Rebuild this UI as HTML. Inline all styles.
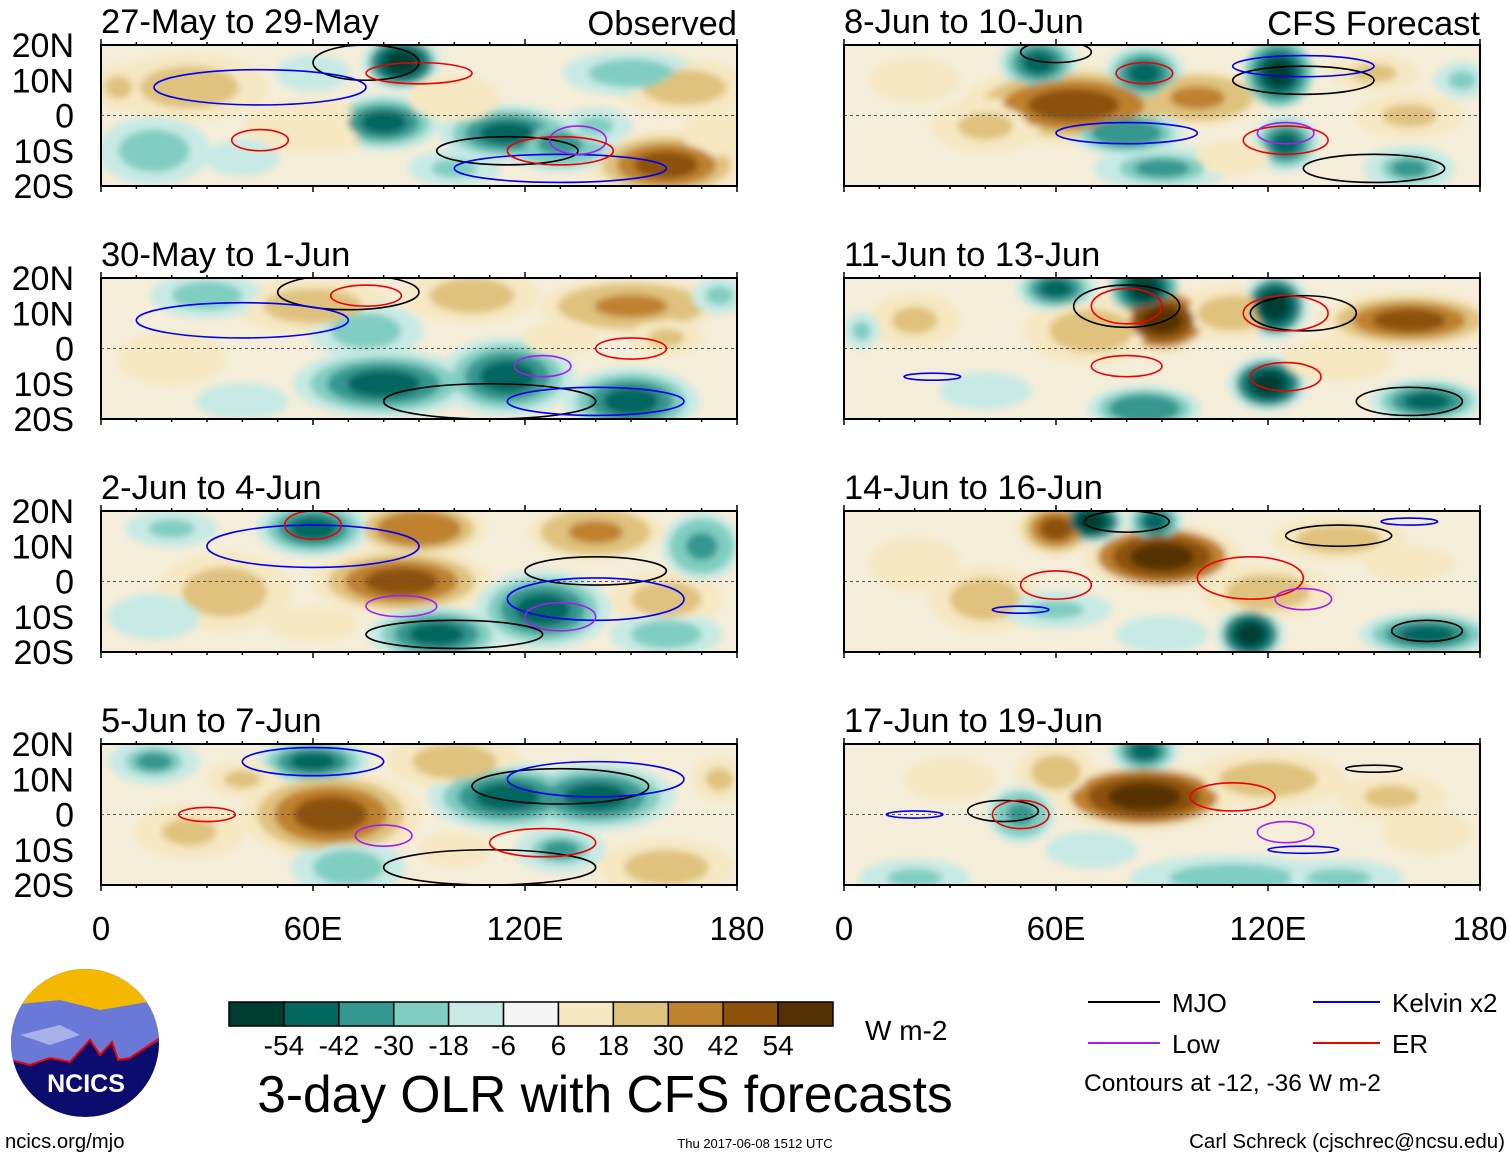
<!DOCTYPE html>
<html><head><meta charset="utf-8"><style>
html,body{margin:0;padding:0;background:#fff}
body{width:1510px;height:1158px;overflow:hidden;font-family:"Liberation Sans",sans-serif}
</style></head><body>
<svg id="chart" width="1510" height="1158" viewBox="0 0 1510 1158" xmlns="http://www.w3.org/2000/svg" font-family="Liberation Sans, sans-serif">
<defs>
<filter id="blur" x="-50%" y="-50%" width="200%" height="200%"><feGaussianBlur stdDeviation="3.5"/></filter>
</defs>
<g id="panels"></g>
<g id="colorbar"></g>
<text x="865" y="1040" font-size="28">W m-2</text>
<text x="605" y="1112" font-size="51.5" text-anchor="middle">3-day OLR with CFS forecasts</text>
<g font-size="26">
<line x1="1088" y1="1002" x2="1160" y2="1002" stroke="#000" stroke-width="2"/><text x="1172" y="1012">MJO</text>
<line x1="1313" y1="1002" x2="1380" y2="1002" stroke="#0000ee" stroke-width="2"/><text x="1392" y="1012">Kelvin x2</text>
<line x1="1088" y1="1043" x2="1160" y2="1043" stroke="#a020f0" stroke-width="2"/><text x="1172" y="1053">Low</text>
<line x1="1313" y1="1043" x2="1380" y2="1043" stroke="#ee0000" stroke-width="2"/><text x="1392" y="1053">ER</text>
<text x="1084" y="1091" font-size="24.5">Contours at -12, -36 W m-2</text>
</g>
<g>
<clipPath id="lc"><circle cx="85" cy="1043" r="74"/></clipPath>
<g clip-path="url(#lc)">
<rect x="10" y="969" width="150" height="150" fill="#0c0c6e"/>
<rect x="10" y="969" width="150" height="45" fill="#f5b800"/>
<path d="M10 1005 L60 1000 L100 1010 L160 1000 L160 1040 L130 1058 L118 1060 L112 1042 L100 1055 L90 1040 L70 1062 L50 1058 L30 1065 L10 1060 Z" fill="#6a78d8"/>
<path d="M20 1035 L60 1025 L80 1035 L50 1045 Z" fill="#a8b0e8"/>
<path d="M10 1060 L30 1065 L50 1058 L70 1062 L90 1040 L100 1055 L112 1042 L118 1060 L130 1058 L160 1038" fill="none" stroke="#e00" stroke-width="2"/>
</g>
<text x="86" y="1092" font-size="25" font-weight="bold" fill="#fff" text-anchor="middle">NCICS</text>
</g>
<text x="5" y="1148" font-size="20.3">ncics.org/mjo</text>
<text x="755" y="1148" font-size="13" text-anchor="middle">Thu 2017-06-08 1512 UTC</text>
<text x="1505" y="1148" font-size="20.5" text-anchor="end">Carl Schreck (cjschrec@ncsu.edu)</text>
</svg>
<script>
const binEdges = [-54,-42,-30,-18,-6,6,18,30,42,54];
const binColors = ["#003c30","#01665e","#35978f","#80cdc1","#c7eae5","#f5f5f5","#f6e8c3","#dfc27d","#bf812d","#8c510a","#543005"];
const latTicks = ["20N","10N","0","10S","20S"];
const lonTicks = ["0","60E","120E","180"];
const panelTitles = ["27-May to 29-May","30-May to 1-Jun","2-Jun to 4-Jun","5-Jun to 7-Jun","8-Jun to 10-Jun","11-Jun to 13-Jun","14-Jun to 16-Jun","17-Jun to 19-Jun"];
// blobs: [lon, lat, OLR anomaly, lon-radius deg, lat-radius deg]
const blobs0 = [[25,8,25,14,6],[60,-3,18,15,6],[160,-14,50,14,6],[165,8,30,12,5],[85,15,-55,7,5],[80,-2,-45,10,5],[115,-5,-45,12,5],[130,-8,-35,10,5],[15,-10,-25,10,6],[150,12,-25,12,4],[100,5,18,10,5],[5,8,20,6,5],[140,-3,-20,8,4],[40,-12,-15,8,4],[60,12,-15,8,4],[175,-5,15,8,5],[100,-15,-20,10,4]];
const blobs1 = [[20,-3,18,12,6],[60,12,25,14,5],[150,12,35,16,5],[80,-10,-50,16,6],[115,-8,-45,12,7],[150,-15,-45,12,6],[75,5,-25,10,5],[105,15,25,12,5],[30,15,-25,10,4],[175,15,-20,6,4],[40,-15,-15,10,4],[160,3,20,8,4],[130,3,15,8,4]];
const blobs2 = [[35,-3,25,12,7],[85,0,45,16,6],[90,15,40,12,5],[140,14,35,12,5],[160,-5,30,10,5],[60,15,-50,10,5],[95,-15,-50,12,5],[125,-8,-45,12,7],[170,10,-35,7,6],[20,15,-20,10,4],[15,-10,-15,10,5],[160,-15,-25,10,4],[60,-12,15,10,4]];
const blobs3 = [[65,0,50,16,8],[25,-5,20,12,6],[160,-15,30,12,5],[100,15,25,12,5],[60,15,-50,10,4],[115,5,-45,14,6],[140,5,-45,14,6],[70,-15,-25,10,5],[15,15,-30,8,4],[175,10,20,6,5],[40,10,20,8,4],[100,-10,15,8,4],[130,-10,-30,8,4]];
const blobs4 = [[65,3,50,20,7],[100,5,35,12,5],[40,-3,20,12,6],[160,0,20,12,5],[55,15,-45,7,5],[85,12,-50,7,5],[123,12,-60,6,6],[80,-5,-40,10,4],[125,-8,-50,6,5],[90,-15,-30,12,4],[160,-15,-30,8,4],[175,10,-20,6,4],[20,10,15,10,5],[150,12,20,10,4],[110,-12,15,8,4]];
const blobs5 = [[90,8,60,9,6],[70,5,30,12,6],[160,8,45,16,5],[110,10,25,10,5],[60,17,-45,7,4],[85,17,-60,6,5],[122,12,-55,6,6],[120,-10,-55,7,5],[165,-15,-45,10,4],[85,-17,-40,10,4],[20,8,20,10,6],[140,-3,15,12,5],[40,-12,-15,10,4],[5,5,-20,4,4]];
const blobs6 = [[90,7,55,14,6],[60,15,45,7,5],[40,-5,25,10,6],[140,12,25,12,4],[120,-3,25,12,5],[70,17,-55,6,4],[88,17,-45,5,4],[115,-15,-55,6,5],[165,-15,-50,12,4],[60,-8,-20,12,4],[20,5,15,10,6],[160,5,15,10,4],[90,-15,-15,10,4]];
const blobs7 = [[85,5,55,16,6],[60,12,30,7,5],[120,10,30,14,5],[155,5,20,12,5],[85,18,-50,6,4],[50,0,-35,6,5],[110,-18,-25,18,4],[20,-18,-20,12,4],[140,-18,-20,14,4],[30,10,15,10,5],[165,-5,15,10,5],[70,-10,-15,10,4]];
const allBlobs = [blobs0,blobs1,blobs2,blobs3,blobs4,blobs5,blobs6,blobs7];
// contours: [lon, lat, lon-radius, lat-radius, type]
const conts0 = [[75,15,15,5,"mjo"],[115,-10,20,4,"mjo"],[45,8,30,5,"kel"],[130,-15,30,4,"kel"],[90,12,15,3,"er"],[45,-7,8,3,"er"],[135,-7,8,4,"low"],[130,-10,15,4,"er"]];
const conts1 = [[70,16,20,5,"mjo"],[110,-15,30,5,"mjo"],[40,8,30,5,"kel"],[140,-15,25,4,"kel"],[75,15,10,3,"er"],[125,-5,8,3,"low"],[150,0,10,3,"er"]];
const conts2 = [[100,-15,25,4,"mjo"],[140,3,20,4,"mjo"],[60,10,30,6,"kel"],[140,-5,25,6,"kel"],[85,-7,10,3,"low"],[130,-10,10,4,"low"],[60,16,8,4,"er"]];
const conts3 = [[110,-15,30,5,"mjo"],[130,8,25,5,"mjo"],[60,15,20,4,"kel"],[140,10,25,5,"kel"],[125,-8,15,4,"er"],[80,-6,8,3,"low"],[30,0,8,2,"er"]];
const conts4 = [[60,18,10,3,"mjo"],[130,10,20,4,"mjo"],[150,-15,20,4,"mjo"],[80,-5,20,3,"kel"],[130,14,20,3,"kel"],[85,12,8,3,"er"],[125,-7,12,4,"er"],[125,-5,8,3,"low"]];
const conts5 = [[80,12,15,6,"mjo"],[130,10,15,5,"mjo"],[160,-15,15,4,"mjo"],[80,12,10,5,"er"],[125,10,12,5,"er"],[80,-5,10,3,"er"],[125,-8,10,4,"er"],[25,-8,8,1,"kel"]];
const conts6 = [[80,17,12,3,"mjo"],[140,13,15,3,"mjo"],[165,-14,10,3,"mjo"],[60,-1,10,4,"er"],[115,1,15,6,"er"],[130,-5,8,3,"low"],[50,-8,8,1,"kel"],[160,17,8,1,"kel"]];
const conts7 = [[45,1,10,3,"mjo"],[150,13,8,1,"mjo"],[50,0,8,4,"er"],[110,5,12,4,"er"],[125,-5,8,3,"low"],[20,0,8,1,"kel"],[130,-10,10,1,"kel"]];
const allConts = [conts0,conts1,conts2,conts3,conts4,conts5,conts6,conts7];
const contColors = {mjo:"#000",kel:"#0000ee",er:"#ee0000",low:"#a020f0"};

const NS = "http://www.w3.org/2000/svg";
const colX = [101,844], rowY = [45,278,511,744], PW = 636, PH = 141;
function mk(t, a, p){const e=document.createElementNS(NS,t);for(const k in a)e.setAttribute(k,a[k]);p.appendChild(e);return e;}
function colorFor(v){let i=0;while(i<binEdges.length&&v>binEdges[i])i++;return binColors[i];}
const levels = [[1.6,0.3],[1.3,0.55],[1.0,0.8],[0.65,1.0]];
const root = document.getElementById('panels');
for(let p=0;p<8;p++){
  const c=Math.floor(p/4), r=p%4, x0=colX[c], y0=rowY[r];
  const xs = lon => x0 + lon/180*PW;
  const ys = lat => y0 + (20-lat)/40*PH;
  const g = mk('g',{},root);
  
  
  const cp = mk('clipPath',{id:'cp'+p},g);
  mk('rect',{x:x0,y:y0,width:PW,height:PH},cp);
  const inner = mk('g',{'clip-path':'url(#cp'+p+')'},g);
  mk('rect',{x:x0,y:y0,width:PW,height:PH,fill:'#f4edd9'},inner);
  const fg = mk('g',{filter:'url(#blur)'},inner);
  levels.forEach(lv=>{
    allBlobs[p].forEach(b=>{
      const v=b[2]*lv[1];
      if(Math.abs(v)<=6) return;
      const e=mk('ellipse',{cx:xs(b[0]),cy:ys(b[1]),rx:b[3]/180*PW*lv[0],ry:b[4]/40*PH*lv[0],fill:colorFor(v)},fg);
      
      
    });
  });
  mk('line',{x1:x0,y1:ys(0),x2:x0+PW,y2:ys(0),stroke:'#555','stroke-dasharray':'3,3','stroke-width':1},inner);
  allConts[p].forEach(k=>{
    const e=mk('ellipse',{cx:xs(k[0]),cy:ys(k[1]),rx:k[2]/180*PW,ry:k[3]/40*PH,fill:'none',stroke:contColors[k[4]],'stroke-width':1.6},inner);
    
    
  });
  mk('rect',{x:x0,y:y0,width:PW,height:PH,fill:'none',stroke:'#000','stroke-width':2},g);
  for(let l=0;l<=180;l+=10){mk('line',{x1:xs(l),y1:y0,x2:xs(l),y2:y0-(l%60?3:6),stroke:'#000','stroke-width':1.5},g);mk('line',{x1:xs(l),y1:y0+PH,x2:xs(l),y2:y0+PH+(l%60?3:6),stroke:'#000','stroke-width':1.5},g);}
  const t=mk('text',{x:x0,y:y0-12,'font-size':34.5},g);t.textContent=panelTitles[p];
  
  if(c===0){latTicks.forEach((s,i)=>{const tt=mk('text',{x:x0-27,y:y0+i*PH/4+12,'font-size':34,'text-anchor':'end'},g);tt.textContent=s;});}
  if(p===0){const tt=mk('text',{x:x0+PW,y:y0-10,'font-size':34.5,'text-anchor':'end'},g);tt.textContent='Observed';}
  if(p===4){const tt=mk('text',{x:x0+PW,y:y0-10,'font-size':34.5,'text-anchor':'end'},g);tt.textContent='CFS Forecast';}
  if(r===3){lonTicks.forEach((s,i)=>{const tt=mk('text',{x:xs(i*60),y:940,'font-size':33,'text-anchor':'middle'},g);tt.textContent=s;});}
}
const cb=document.getElementById('colorbar');
const bw=604/binColors.length;
binColors.forEach((col,i)=>{const e=mk('rect',{x:229+i*bw,y:1002,width:bw,height:24,fill:col,stroke:'#000','stroke-width':1.5},cb);});
binEdges.forEach((v,i)=>{const t=mk('text',{x:229+(i+1)*bw,y:1055,'font-size':28,'text-anchor':'middle'},cb);t.textContent=v;});
</script>
</body></html>
